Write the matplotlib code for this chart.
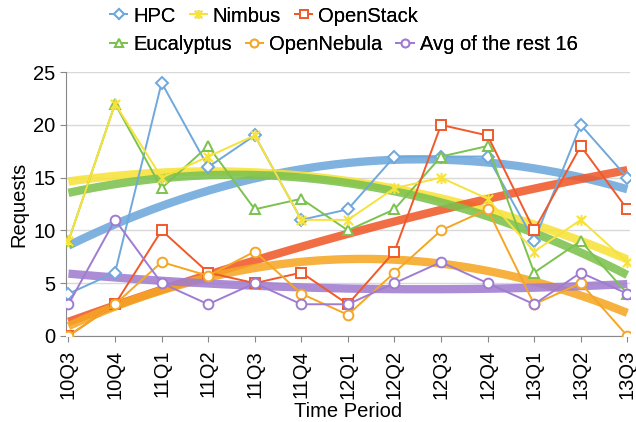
import numpy as np
import matplotlib
matplotlib.use("Agg")
import matplotlib.pyplot as plt
from matplotlib.path import Path

plt.rcParams['font.family'] = ['Liberation Sans', 'DejaVu Sans']

periods = ["10Q3", "10Q4", "11Q1", "11Q2", "11Q3", "11Q4", "12Q1",
           "12Q2", "12Q3", "12Q4", "13Q1", "13Q2", "13Q3"]

hpc        = [4, 6, 24, 16, 19, 11, 12, 17, 17, 17, 9, 20, 15]
nimbus     = [9, 22, 15, 17, 19, 11, 11, 14, 15, 13, 8, 11, 7]
openstack  = [0, 3, 10, 6, 5, 6, 3, 8, 20, 19, 10, 18, 12]
eucalyptus = [9, 22, 14, 18, 12, 13, 10, 12, 17, 18, 6, 9, 4]
opennebula = [0, 3, 7, 5.7, 8, 4, 2, 6, 10, 12, 3, 5, 0]
avg_rest   = [3, 11, 5, 3, 5, 3, 3, 5, 7, 5, 3, 6, 4]

series = [
    ("HPC", hpc, "#6FA8DC", "D"),
    ("Nimbus", nimbus, "#F7E23A", "star"),
    ("OpenStack", openstack, "#F0592A", "s"),
    ("Eucalyptus", eucalyptus, "#7CC24E", "^"),
    ("OpenNebula", opennebula, "#F5A623", "o"),
    ("Avg of the rest 16", avg_rest, "#A07CD0", "o"),
]
draw_order = [0, 3, 1, 2, 4, 5]

# Excel-style star marker: an "x" plus a vertical bar
star = Path([(-1, -1), (1, 1), (-1, 1), (1, -1), (0, -1.2), (0, 1.2)],
            [Path.MOVETO, Path.LINETO, Path.MOVETO, Path.LINETO,
             Path.MOVETO, Path.LINETO])

fig = plt.figure(figsize=(6.36, 4.22), dpi=100)
ax = fig.add_axes([0.104, 0.204, 0.886, 0.625])

x = np.arange(len(periods))
xs = np.linspace(0, len(periods) - 1, 200)

for name, vals, col, mk in series:
    v = np.array(vals, dtype=float)
    coef = np.polyfit(x, v, 2)
    ax.plot(xs, np.polyval(coef, xs), color=col, lw=6, alpha=0.88,
            solid_capstyle='butt', zorder=3)

handles = {}
for i in draw_order:
    name, vals, col, mk = series[i]
    v = np.array(vals, dtype=float)
    if mk == "star":
        h, = ax.plot(x, v, color=col, lw=1.4, marker=star, ms=8,
                     mfc="none", mec=col, mew=1.5, zorder=4, label=name)
    else:
        h, = ax.plot(x, v, color=col, lw=1.4, marker=mk,
                     ms=7 if mk != "D" else 6.5,
                     mfc="white", mec=col, mew=1.4, zorder=4, label=name)
    handles[i] = h

ax.set_xlim(-0.05, 12.05)
ax.set_ylim(0, 25)
ax.set_yticks([0, 5, 10, 15, 20, 25])
ax.set_xticks(x)
ax.set_xticklabels(periods, rotation=90, fontsize=14.5)
ax.tick_params(axis='y', labelsize=14.5, length=4, color="#888888")
ax.tick_params(axis='x', length=4, pad=6, color="#888888")
ax.grid(axis='y', color="#D9D9D9", lw=1)
ax.set_axisbelow(True)
for s in ["top", "right"]:
    ax.spines[s].set_visible(False)
for s in ["left", "bottom"]:
    ax.spines[s].set_color("#888888")
ax.set_ylabel("Requests", fontsize=14.5)
ax.set_xlabel("Time Period", fontsize=14.5, labelpad=2)

rows = [[0, 1, 2], [3, 4, 5]]
row_y = [16, 45]
for r, yy in zip(rows, row_y):
    leg = fig.legend([handles[i] for i in r], [series[i][0] for i in r],
                     ncol=3, loc="center left",
                     bbox_to_anchor=(110 / 636, 1 - yy / 422),
                     frameon=False, fontsize=14.5, handlelength=0.85,
                     handletextpad=0.3, columnspacing=0.7,
                     borderpad=0, borderaxespad=0, markerscale=0.8)
    fig.add_artist(leg)

fig.savefig("out.png", dpi=100)
